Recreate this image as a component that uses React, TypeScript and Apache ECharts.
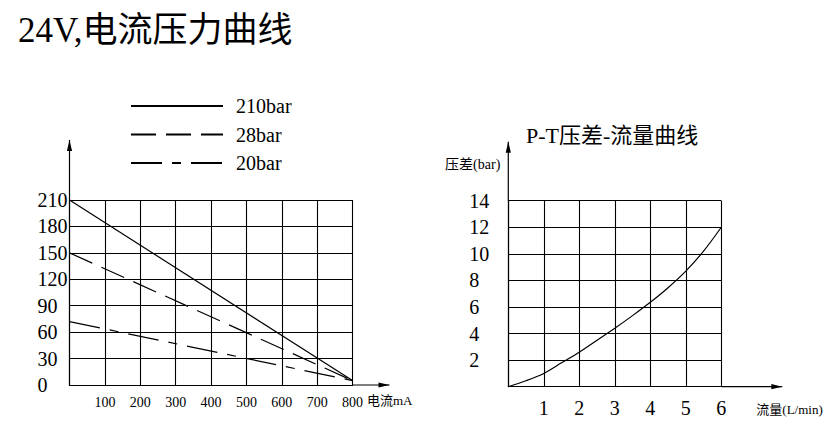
import React, { useEffect, useRef } from "react";
import * as echarts from "echarts";

// ---- Left chart: 24V current / pressure ----
const legendNames = ["210bar", "28bar", "20bar"];
const currentMA = [0, 800];
const pressure210 = [210, 5];
const pressure28 = [150, 5];
const pressure20 = [72, 5];
const leftXTicks = { min: 0, max: 800, interval: 100 };
const leftYTicks = { min: 0, max: 210, interval: 30 };

// ---- Right chart: P-T pressure drop / flow ----
const flowLmin = [0, 0.5, 1, 1.5, 2, 2.5, 3, 3.5, 4, 4.5, 5, 5.5, 6];
const pressureDrop = [0, 0.45, 1.0, 1.8, 2.6, 3.5, 4.4, 5.35, 6.35, 7.45, 8.7, 10.2, 12];
const rightXTicks = { min: 0, max: 6, interval: 1 };
const rightYTicks = { min: 0, max: 14, interval: 2 };

const SERIF = "'Liberation Serif', 'Noto Sans CJK SC', serif";
const BLACK = "#000";

function pairs(xs: number[], ys: number[]) {
  return xs.map((x, i) => [x, ys[i]]);
}

export default function App() {
  const ref = useRef<HTMLDivElement>(null);

  useEffect(() => {
    if (!ref.current) return;
    const chart = echarts.init(ref.current, null, { renderer: "svg" });

    const axisCommon = {
      type: "value" as const,
      axisTick: { show: false },
      axisLine: { show: true, lineStyle: { color: BLACK, width: 1.2 } },
      splitLine: { show: true, lineStyle: { color: BLACK, width: 1.1 } },
    };

    const option: any = {
      animation: false,
      backgroundColor: "#fff",
      title: [
        {
          text: "24V,电流压力曲线",
          left: 13,
          top: 8,
          textStyle: { fontFamily: SERIF, fontSize: 35, fontWeight: "normal", color: BLACK },
        },
        {
          text: "P-T压差-流量曲线",
          left: 521,
          top: 119,
          textStyle: { fontFamily: SERIF, fontSize: 22, fontWeight: "normal", color: BLACK },
        },
      ],
      legend: {
        data: legendNames,
        orient: "vertical",
        left: 125,
        top: 91,
        itemWidth: 92,
        itemHeight: 20,
        itemGap: 8.5,
        selectedMode: false,
        itemStyle: { color: "transparent", opacity: 0, borderWidth: 0 },
        textStyle: { fontFamily: SERIF, fontSize: 20, color: BLACK, padding: [0, 0, 0, 8] },
      },
      grid: [
        { left: 69.5, top: 200, width: 283, height: 185 },
        { left: 508.3, top: 200.7, width: 213, height: 186 },
      ],
      xAxis: [
        {
          ...axisCommon,
          gridIndex: 0,
          ...leftXTicks,
          name: "电流mA",
          nameLocation: "end",
          nameGap: 12,
          nameTextStyle: { fontFamily: SERIF, fontSize: 13, color: BLACK, verticalAlign: "top", padding: [9, 0, 0, 0] },
          axisLabel: { showMinLabel: false, fontFamily: SERIF, fontSize: 14, color: BLACK, margin: 10 },
        },
        {
          ...axisCommon,
          gridIndex: 1,
          ...rightXTicks,
          name: "流量(L/min)",
          nameLocation: "end",
          nameGap: 35,
          nameTextStyle: { fontFamily: SERIF, fontSize: 13, color: BLACK, verticalAlign: "top", padding: [16, 0, 0, 0] },
          axisLabel: { showMinLabel: false, fontFamily: SERIF, fontSize: 20, color: BLACK, margin: 11 },
        },
      ],
      yAxis: [
        {
          ...axisCommon,
          gridIndex: 0,
          ...leftYTicks,
          axisLabel: { align: "left", margin: 32, fontFamily: SERIF, fontSize: 20, color: BLACK },
        },
        {
          ...axisCommon,
          gridIndex: 1,
          ...rightYTicks,
          name: "压差(bar)",
          nameLocation: "end",
          nameGap: 29,
          nameTextStyle: { fontFamily: SERIF, fontSize: 14, color: BLACK, align: "right", padding: [0, 8, 0, 0] },
          axisLabel: { showMinLabel: false, align: "left", margin: 39, fontFamily: SERIF, fontSize: 20, color: BLACK },
        },
      ],
      series: [
        {
          name: legendNames[0],
          type: "line",
          xAxisIndex: 0,
          yAxisIndex: 0,
          symbol: "none",
          data: pairs(currentMA, pressure210),
          lineStyle: { color: BLACK, width: 1.2, type: "solid" },
          itemStyle: { color: BLACK },
        },
        {
          name: legendNames[1],
          type: "line",
          xAxisIndex: 0,
          yAxisIndex: 0,
          symbol: "none",
          data: pairs(currentMA, pressure28),
          lineStyle: { color: BLACK, width: 1.2, type: [25, 10] },
          itemStyle: { color: BLACK },
        },
        {
          name: legendNames[2],
          type: "line",
          xAxisIndex: 0,
          yAxisIndex: 0,
          symbol: "none",
          data: pairs(currentMA, pressure20),
          lineStyle: { color: BLACK, width: 1.2, type: [31, 10, 9, 10] },
          itemStyle: { color: BLACK },
        },
        {
          name: "压差",
          type: "line",
          xAxisIndex: 1,
          yAxisIndex: 1,
          symbol: "none",
          smooth: 0.3,
          data: pairs(flowLmin, pressureDrop),
          lineStyle: { color: BLACK, width: 1.2 },
          itemStyle: { color: BLACK },
        },
      ],
    };

    chart.setOption(option);

    // axis arrows extending beyond the plotting boxes
    const arrow = (tip: number[], dir: "up" | "right") => {
      const L = 11;
      const W = 2.6;
      const pts =
        dir === "up"
          ? [tip, [tip[0] - W, tip[1] + L], [tip[0] + W, tip[1] + L]]
          : [tip, [tip[0] - L, tip[1] - W], [tip[0] - L, tip[1] + W]];
      return { type: "polygon", shape: { points: pts }, style: { fill: BLACK }, silent: true };
    };
    const line = (a: number[], b: number[]) => ({
      type: "line",
      shape: { x1: a[0], y1: a[1], x2: b[0], y2: b[1] },
      style: { stroke: BLACK, lineWidth: 1.2 },
      silent: true,
    });

    const lOrigin = chart.convertToPixel({ gridIndex: 0 }, [leftXTicks.min, leftYTicks.min]) as number[];
    const lTop = chart.convertToPixel({ gridIndex: 0 }, [leftXTicks.min, leftYTicks.max]) as number[];
    const lRight = chart.convertToPixel({ gridIndex: 0 }, [leftXTicks.max, leftYTicks.min]) as number[];
    const rOrigin = chart.convertToPixel({ gridIndex: 1 }, [rightXTicks.min, rightYTicks.min]) as number[];
    const rTop = chart.convertToPixel({ gridIndex: 1 }, [rightXTicks.min, rightYTicks.max]) as number[];
    const rRight = chart.convertToPixel({ gridIndex: 1 }, [rightXTicks.max, rightYTicks.min]) as number[];

    const lYTip = [lOrigin[0], lTop[1] - 60];
    const lXTip = [lRight[0] + 37, lOrigin[1]];
    const rYTip = [rOrigin[0], rTop[1] - 59];
    const rXTip = [rRight[0] + 61, rOrigin[1]];

    chart.setOption({
      graphic: [
        line(lTop, lYTip),
        arrow(lYTip, "up"),
        line(lRight, lXTip),
        arrow(lXTip, "right"),
        line(rTop, rYTip),
        arrow(rYTip, "up"),
        line(rRight, rXTip),
        arrow(rXTip, "right"),
      ],
    });

    return () => chart.dispose();
  }, []);

  return (
    <div
      ref={ref}
      style={{ position: "fixed", left: 0, top: 0, width: 836, height: 439, background: "#fff" }}
    />
  );
}
